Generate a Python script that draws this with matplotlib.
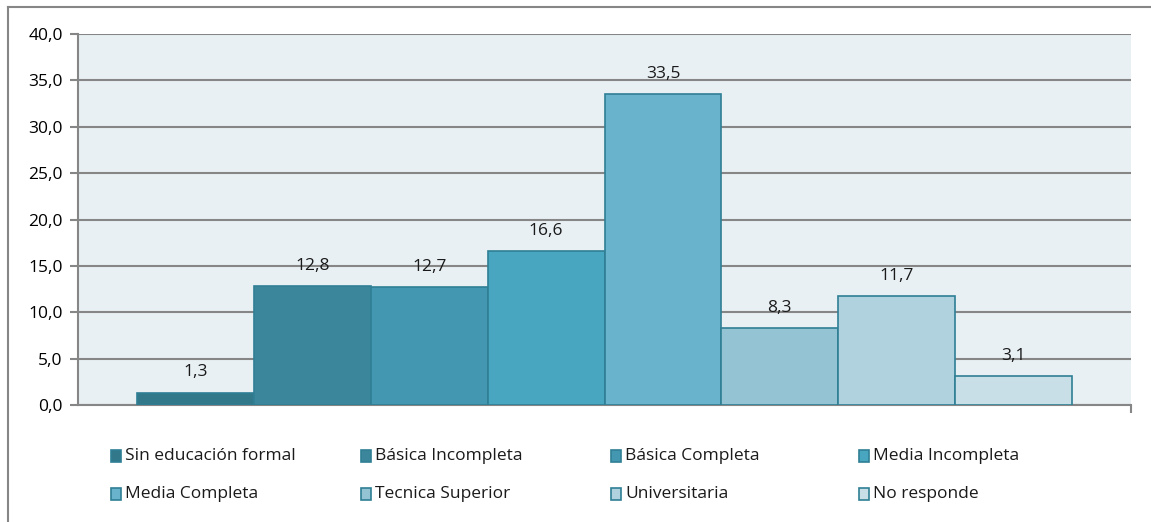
import matplotlib.pyplot as plt
from matplotlib.patches import Rectangle
from matplotlib.lines import Line2D

categories = [
    "Sin educación formal",
    "Básica Incompleta",
    "Básica Completa",
    "Media Incompleta",
    "Media Completa",
    "Tecnica Superior",
    "Universitaria",
    "No responde",
]
values = [1.3, 12.8, 12.7, 16.6, 33.5, 8.3, 11.7, 3.1]
colors = ["#31788b", "#3c869c", "#4397b0", "#48a6c0",
          "#69b4cc", "#94c3d4", "#b0d2de", "#c9dfe7"]
edge = "#2f7f95"
yticks = [0, 5, 10, 15, 20, 25, 30, 35, 40]

plt.rcParams["font.family"] = ["Open Sans", "DejaVu Sans"]
FS = 12.5
W, H = 1151, 522
fig = plt.figure(figsize=(W / 100, H / 100), dpi=100)

# outer chart border (right and bottom run off the image)
fig.add_artist(Line2D([8 / W, 8 / W], [0, 1 - 7 / H], transform=fig.transFigure,
                      color="#868686", lw=1.5))
fig.add_artist(Line2D([8 / W, 1], [1 - 7 / H, 1 - 7 / H], transform=fig.transFigure,
                      color="#868686", lw=1.5))

ax = fig.add_axes([78 / W, 1 - 405 / H, (1131 - 78) / W, (405 - 34) / H])
ax.set_facecolor("#e8f0f4")

n = len(values)
width = 0.111
x0 = -width * n / 2 + width / 2
for i, (v, c) in enumerate(zip(values, colors)):
    x = x0 + i * width
    ax.bar(x, v, width=width, color=c, edgecolor=edge, linewidth=1.2, zorder=3)
    ax.annotate(f"{v:.1f}".replace(".", ","), (x, v), xytext=(0, 9),
                textcoords="offset points", ha="center", va="bottom",
                fontsize=FS, color="#1a1a1a", zorder=4)

ax.set_xlim(-0.5, 0.5)
ax.set_ylim(0, 40)
ax.set_yticks(yticks)
ax.set_yticklabels([f"{t:.1f}".replace(".", ",") for t in yticks], fontsize=FS)
ax.yaxis.grid(True, color="#868686", lw=1.5, zorder=1)
ax.set_xticks([0.5])
ax.set_xticklabels([""])
ax.tick_params(axis="y", length=6, width=1.5, color="#868686", pad=5)
ax.tick_params(axis="x", length=6, width=1.5, color="#868686", direction="out")
for side in ["top", "right"]:
    ax.spines[side].set_visible(False)
for side in ["left", "bottom"]:
    ax.spines[side].set_color("#868686")
    ax.spines[side].set_linewidth(1.5)

# legend laid out in a 4 x 2 grid
col_x = [111, 361, 611, 859]
row_y = [456, 494]
for i, (name, c) in enumerate(zip(categories, colors)):
    cx = col_x[i % 4]
    cy = row_y[i // 4]
    fig.add_artist(Rectangle((cx / W, 1 - (cy + 6) / H), 10 / W, 12 / H,
                             transform=fig.transFigure, facecolor=c,
                             edgecolor=edge, linewidth=1.2))
    fig.text((cx + 14) / W, 1 - cy / H, name, fontsize=FS, va="center",
             ha="left", color="#1a1a1a")

fig.savefig("out.png", dpi=100)
